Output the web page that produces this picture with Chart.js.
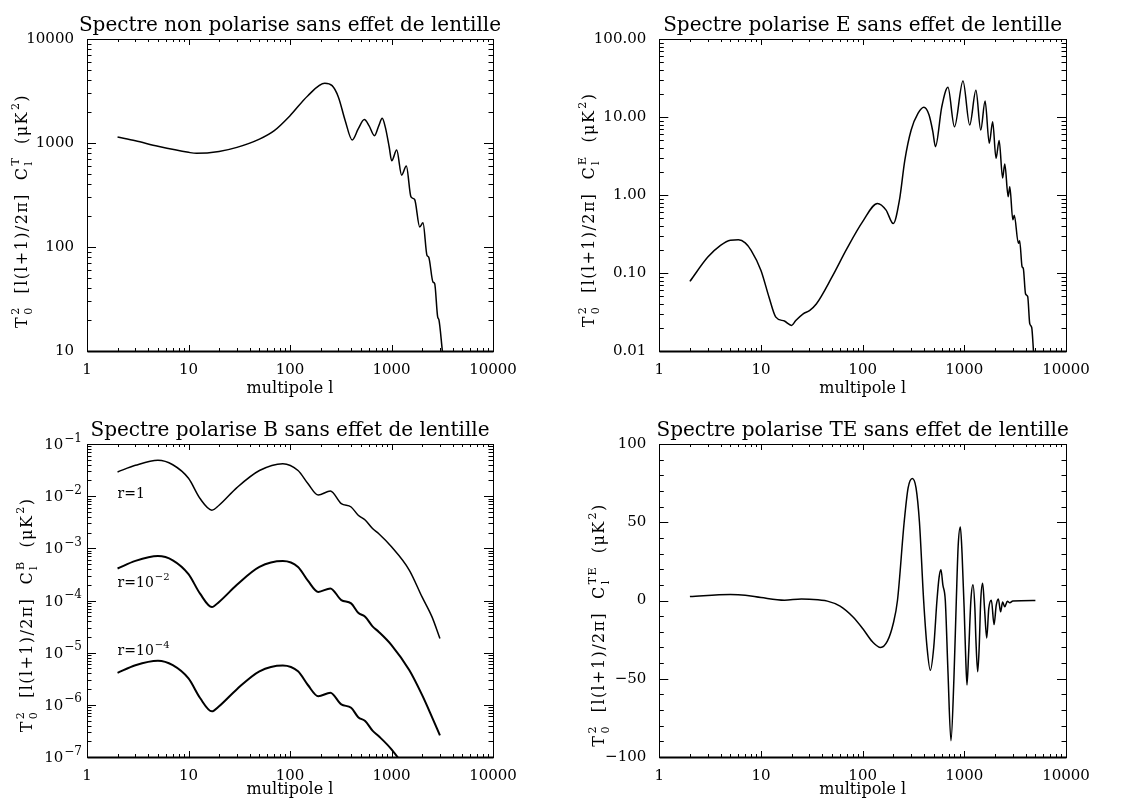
<!DOCTYPE html>
<html>
<head>
<meta charset="utf-8">
<script src="https://cdn.jsdelivr.net/npm/chart.js@4.4.1/dist/chart.umd.min.js"></script>
<style>
  html, body { margin: 0; padding: 0; background: #fff; }
  #wrap { position: relative; width: 1134px; height: 802px; background: #fff; }
  #wrap canvas { position: absolute; }
</style>
</head>
<body>
<div id="wrap">
  <canvas id="cT" width="567" height="401" style="left:0;top:0"></canvas>
  <canvas id="cE" width="567" height="401" style="left:567px;top:0"></canvas>
  <canvas id="cB" width="567" height="401" style="left:0;top:401px"></canvas>
  <canvas id="cTE" width="567" height="401" style="left:567px;top:401px"></canvas>
</div>
<script>
// ---- axes ----
const xTicks = [1, 10, 100, 1000, 10000];
const xTickLabels = ['1', '10', '100', '1000', '10000'];

const ttTicks = [10, 100, 1000, 10000];
const ttTickLabels = ['10', '100', '1000', '10000'];
const eeTicks = [0.01, 0.1, 1, 10, 100];
const eeTickLabels = ['0.01', '0.10', '1.00', '10.00', '100.00'];
const bbTicks = [1e-7, 1e-6, 1e-5, 1e-4, 1e-3, 1e-2, 1e-1];
const bbTickExps = ['−7', '−6', '−5', '−4', '−3', '−2', '−1'];
const teTicks = [-100, -50, 0, 50, 100];
const teTickLabels = ['−100', '−50', '0', '50', '100'];

// ---- spectre T (non polarise) ----
const ttEll = [2, 3, 5, 10, 12, 20, 30, 50, 70, 100, 150, 220, 260, 300, 350, 410, 470, 540, 600, 680, 750, 810, 870, 950,
  1004, 1125, 1259, 1400, 1556, 1690, 1896, 2043, 2238, 2325, 2563, 2662, 2850, 2930, 3170];
const ttVals = [1140, 1050, 930, 813, 795, 830, 908, 1090, 1315, 1830, 2850, 3750, 3560, 2760, 1640, 1070, 1365, 1680, 1470, 1175, 1470, 1730, 1415, 910,
  675, 855, 491, 600, 303, 286, 156, 171, 83, 80, 46, 44.5, 21.3, 20, 10];

// ---- spectre E ----
const eeEll = [2, 3, 4, 5, 6, 7, 8, 10, 12, 14, 17, 20, 22, 26, 30, 35, 50, 70, 100, 140, 170, 200, 230, 260, 300, 350, 400, 450, 490, 520,
  600, 690, 800, 970, 1130, 1300, 1450, 1600, 1760, 1900, 2050, 2200, 2380, 2500, 2700, 2800, 3000, 3100, 3400, 3500, 3700, 3800,
  4000, 4200, 4400, 4600, 4800];
const eeVals = [0.078, 0.16, 0.226, 0.263, 0.266, 0.243, 0.195, 0.108, 0.049, 0.0272, 0.0242, 0.0213, 0.0246, 0.030, 0.033, 0.040, 0.089, 0.205,
  0.455, 0.78, 0.64, 0.43, 0.86, 2.8, 6.8, 11.1, 13.3, 10.6, 6.5, 4.17, 13.5, 24, 7.5, 29, 7.9, 22, 6.8, 16, 4.6, 8.7, 2.96, 5.0, 1.65, 2.5,
  0.95, 1.28, 0.48, 0.55, 0.24, 0.26, 0.12, 0.115, 0.054, 0.05, 0.0224, 0.020, 0.0095];

// ---- spectre B, trois valeurs de r ----
const bbEll = [2, 3, 5, 7, 10, 13, 17, 20, 30, 50, 85, 120, 150, 190, 250, 320, 400, 470, 550, 650, 750, 1000, 1500, 2000, 2500, 3000];
const bbR1 = [0.0291, 0.039, 0.0487, 0.040, 0.022, 0.009, 0.0054, 0.0067, 0.0146, 0.031, 0.042, 0.031, 0.0175, 0.0105, 0.0126, 0.0072,
  0.0062, 0.0043, 0.0035, 0.0024, 0.0019, 0.00107, 0.00038, 0.000117, 0.000049, 0.0000187];
const bbR2 = [4.1e-4, 5.75e-4, 7.1e-4, 5.9e-4, 3.2e-4, 1.35e-4, 7.5e-5, 9.4e-5, 2.0e-4, 4.4e-4, 5.7e-4, 4.4e-4, 2.4e-4, 1.46e-4, 1.7e-4,
  1.02e-4, 8.8e-5, 5.8e-5, 4.9e-5, 3.2e-5, 2.5e-5, 1.4e-5, 4.6e-6, 1.55e-6, 5.9e-7, 2.6e-7];
const bbR4 = [4.1e-6, 5.75e-6, 7.0e-6, 5.75e-6, 3.2e-6, 1.35e-6, 7.5e-7, 9.4e-7, 2.0e-6, 4.4e-6, 5.7e-6, 4.4e-6, 2.4e-6, 1.46e-6, 1.7e-6,
  1.02e-6, 8.8e-7, 5.8e-7, 4.9e-7, 3.2e-7, 2.5e-7, 1.4e-7, 4.6e-8, 1.55e-8, 5.9e-9, 2.6e-9];
const bbLabelBase = ['r=1', 'r=10', 'r=10'];
const bbLabelExp = ['', '−2', '−4'];
const bbLabelEll = [2, 2, 2];
const bbLabelVals = [0.0117, 2.3e-4, 1.13e-5];

// ---- spectre TE ----
const teEll = [2, 5, 7, 10, 17, 25, 30, 45, 60, 80, 100, 125, 150, 175, 200, 220, 256, 280, 308, 335, 362, 398, 430, 463, 500, 538,
  565, 589, 615, 650, 690, 739, 790, 834, 870, 914, 950, 995, 1030, 1062, 1100, 1160, 1217, 1270, 1300, 1353, 1400, 1450, 1514, 1580,
  1660, 1740, 1845, 1960, 2060, 2160, 2275, 2380, 2500, 2650, 2800, 3000, 5000];
const teVals = [2.5, 3.8, 3.4, 1.9, 0.2, 1, 0.8, -0.4, -3.6, -10.4, -17.9, -26.4, -30, -26, -14.7, 0, 50, 72, 78, 72, 50, 0, -30, -44.6,
  -30, 0, 15, 19.6, 10, 0, -45, -89.6, -50, 0, 35, 47, 30, -4, -35, -54, -35, 0, 10, -5, -25, -45.6, -30, 0, 11, -5,
  -24, -5, 0.2, -15.4, -3, 1, -7.2, -1, -4, -0.5, -1.5, -0.3, 0];

// plot boxes inside each 567x401 canvas (ytx/yty: centre of the rotated y title)
const boxes = {
  cT:  {left: 87, right: 493, top: 39, bottom: 351, ytx: 21.7, yty: 211},
  cE:  {left: 92.3, right: 499, top: 39, bottom: 351, ytx: 21.7, yty: 210},
  cB:  {left: 87, right: 493, top: 43, bottom: 356, ytx: 26.7, yty: 214},
  cTE: {left: 92.3, right: 499, top: 43, bottom: 356, ytx: 31.7, yty: 224}
};

const FONT = '"DejaVu Serif", serif';
Chart.defaults.font.family = FONT;
Chart.defaults.color = '#000';

function pts(xs, ys) {
  return xs.map((x, i) => ({x: x, y: ys[i]}));
}

function logMinor(majors) {
  const out = [];
  for (let i = 0; i < majors.length - 1; i++) {
    for (let k = 2; k <= 9; k++) out.push(majors[i] * k);
  }
  return out;
}

// IDL-style frame: box + inward ticks on all four sides
const idlBox = {
  id: 'idlBox',
  afterDatasetsDraw(chart, args, o) {
    const {ctx, chartArea: a, scales: {x, y}} = chart;
    ctx.save();
    ctx.strokeStyle = '#000';
    ctx.lineWidth = 1;
    ctx.beginPath();
    const xt = (v, len) => {
      const p = Math.round(x.getPixelForValue(v)) + 0.5;
      ctx.moveTo(p, a.bottom); ctx.lineTo(p, a.bottom - len);
      ctx.moveTo(p, a.top); ctx.lineTo(p, a.top + len);
    };
    const yt = (v, len) => {
      const p = Math.round(y.getPixelForValue(v)) + 0.5;
      ctx.moveTo(a.left, p); ctx.lineTo(a.left + len, p);
      ctx.moveTo(a.right, p); ctx.lineTo(a.right - len, p);
    };
    o.xMajor.forEach(v => xt(v, 6));
    o.xMinor.forEach(v => xt(v, 3));
    o.yMajor.forEach(v => yt(v, 9));
    o.yMinor.forEach(v => yt(v, 4.5));
    ctx.stroke();
    const L = Math.round(a.left) + 0.5, R = Math.round(a.right) + 0.5;
    const T = Math.round(a.top) + 0.5, B = Math.round(a.bottom) + 0.5;
    ctx.strokeRect(L, T, R - L, B - T);
    ctx.lineWidth = 2;
    ctx.beginPath();
    ctx.moveTo(L, B); ctx.lineTo(R, B);
    ctx.stroke();
    ctx.restore();
  }
};

// text with stacked sub/superscripts, anchored at x=0 (left/center/right), baseline y0
function drawRich(ctx, parts, size, small, spacing, align, y0) {
  const big = size + 'px ' + FONT, sm = small + 'px ' + FONT;
  ctx.letterSpacing = spacing + 'px';
  const widthOf = p => {
    if (p.t) { ctx.font = big; return ctx.measureText(p.t).width; }
    ctx.font = sm;
    return Math.max(p.sub ? ctx.measureText(p.sub).width : 0, p.sup ? ctx.measureText(p.sup).width : 0) + 1;
  };
  const total = parts.reduce((s, p) => s + widthOf(p), 0);
  let xx = align === 'right' ? -total : align === 'left' ? 0 : -total / 2;
  parts.forEach(p => {
    const w = widthOf(p);
    if (p.t) {
      ctx.font = big;
      ctx.fillText(p.t, xx, y0);
    } else {
      ctx.font = sm;
      if (p.sub) ctx.fillText(p.sub, xx + 1, y0 + size * 0.3);
      if (p.sup) ctx.fillText(p.sup, xx + 1, y0 - size * 0.5);
    }
    xx += w;
  });
  ctx.letterSpacing = '0px';
}

const panelText = {
  id: 'panelText',
  afterDraw(chart, args, o) {
    const {ctx, chartArea: a} = chart;
    const b = boxes[chart.canvas.id];
    ctx.save();
    ctx.fillStyle = '#000';
    ctx.textAlign = 'center';
    ctx.textBaseline = 'alphabetic';
    ctx.font = '20px ' + FONT;
    ctx.fillText(o.title, (a.left + a.right) / 2, a.top - 8.5);

    ctx.textAlign = 'left';
    ctx.save();
    ctx.translate(b.ytx, b.yty);
    ctx.rotate(-Math.PI / 2);
    drawRich(ctx, [
      {t: 'T'}, {sub: '0', sup: '2'},
      {t: '  [l(l+1)/2π]  C'}, {sub: 'l', sup: o.sup},
      {t: '  (μK'}, {sup: '2'}, {t: ')'}
    ], 16, 11, 1.4, 'center', 5.5);
    ctx.restore();

    // powers of ten on the B axis
    if (o.yExps) {
      o.yMajor.forEach((v, i) => {
        ctx.save();
        ctx.translate(a.left - 5, chart.scales.y.getPixelForValue(v));
        drawRich(ctx, [{t: '10'}, {sup: o.yExps[i]}], 15, 12, 0, 'right', 5);
        ctx.restore();
      });
    }

    // r labels on the B panel, left edge at l = 2
    if (o.labels) {
      o.labels.forEach((txt, i) => {
        ctx.save();
        ctx.translate(chart.scales.x.getPixelForValue(o.labelX[i]), chart.scales.y.getPixelForValue(o.labelY[i]));
        const parts = [{t: txt}];
        if (o.labelExp[i]) parts.push({sup: o.labelExp[i]});
        drawRich(ctx, parts, 14, 10, 0, 'left', 5);
        ctx.restore();
      });
    }
    ctx.restore();
  }
};

function makePanel(id, cfg) {
  const b = boxes[id];
  const line = (data, w) => ({
    data: data, borderColor: '#000', borderWidth: w || 1.5, pointRadius: 0,
    fill: false, cubicInterpolationMode: 'monotone'
  });
  return new Chart(document.getElementById(id), {
    type: 'line',
    data: {datasets: cfg.series.map(s => line(s.data, s.w))},
    options: {
      responsive: false,
      animation: false,
      devicePixelRatio: 1,
      layout: {padding: {left: 0, top: b.top, right: 567 - b.right, bottom: 0}},
      plugins: {
        legend: {display: false},
        tooltip: {enabled: false},
        idlBox: {xMajor: xTicks, xMinor: logMinor(xTicks), yMajor: cfg.yTicks, yMinor: cfg.yMinor},
        panelText: {
          title: cfg.title, sup: cfg.sup, yMajor: cfg.yTicks, yExps: cfg.yExps,
          labels: cfg.labels, labelExp: cfg.labelExp, labelX: cfg.labelX, labelY: cfg.labelY
        }
      },
      scales: {
        x: {
          type: 'logarithmic', min: 1, max: 10000,
          grid: {display: false}, border: {display: false},
          afterBuildTicks: s => { s.ticks = xTicks.map(v => ({value: v})); },
          afterFit: s => { s.height = 401 - b.bottom; },
          ticks: {autoSkip: false, maxRotation: 0, padding: 2, font: {size: 15}, callback: (v, i) => xTickLabels[i]},
          title: {display: true, text: 'multipole l', font: {size: 16}, padding: {top: 0, bottom: 3}}
        },
        y: {
          type: cfg.yType, min: cfg.yMin, max: cfg.yMax,
          grid: {display: false}, border: {display: false},
          afterBuildTicks: s => { s.ticks = cfg.yTicks.map(v => ({value: v})); },
          afterFit: s => { s.width = b.left; },
          ticks: {
            display: !cfg.yExps, autoSkip: false, padding: 5, font: {size: 15},
            callback: (v, i) => cfg.yLabels ? cfg.yLabels[i] : ''
          }
        }
      }
    },
    plugins: [idlBox, panelText]
  });
}

const teMinor = [];
for (let v = -90; v < 100; v += 10) if (v % 50 !== 0) teMinor.push(v);

makePanel('cT', {
  title: 'Spectre non polarise sans effet de lentille', sup: 'T',
  yType: 'logarithmic', yMin: 10, yMax: 10000, yTicks: ttTicks, yLabels: ttTickLabels, yMinor: logMinor(ttTicks),
  series: [{data: pts(ttEll, ttVals)}]
});
makePanel('cE', {
  title: 'Spectre polarise E sans effet de lentille', sup: 'E',
  yType: 'logarithmic', yMin: 0.01, yMax: 100, yTicks: eeTicks, yLabels: eeTickLabels, yMinor: logMinor(eeTicks),
  series: [{data: pts(eeEll, eeVals)}]
});
makePanel('cB', {
  title: 'Spectre polarise B sans effet de lentille', sup: 'B',
  yType: 'logarithmic', yMin: 1e-7, yMax: 1e-1, yTicks: bbTicks, yExps: bbTickExps, yMinor: logMinor(bbTicks),
  series: [{data: pts(bbEll, bbR1)}, {data: pts(bbEll, bbR2), w: 2}, {data: pts(bbEll, bbR4), w: 2}],
  labels: bbLabelBase, labelExp: bbLabelExp, labelX: bbLabelEll, labelY: bbLabelVals
});
makePanel('cTE', {
  title: 'Spectre polarise TE sans effet de lentille', sup: 'TE',
  yType: 'linear', yMin: -100, yMax: 100, yTicks: teTicks, yLabels: teTickLabels, yMinor: teMinor,
  series: [{data: pts(teEll, teVals)}]
});
</script>
</body>
</html>
